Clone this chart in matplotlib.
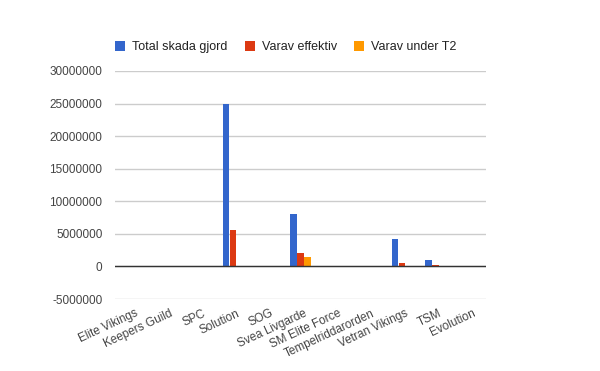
import numpy as np
import matplotlib
matplotlib.use('Agg')
import matplotlib.pyplot as plt

plt.rcParams['font.family'] = ['Liberation Sans', 'DejaVu Sans']

teams = ['Elite Vikings', 'Keepers Guild', 'SPC', 'Solution', 'SOG', 'Svea Livgarde',
         'SM Elite Force', 'Tempelriddarorden', 'Vetran Vikings', 'TSM', 'Evolution']
total = [0, 0, 0, 25000000, 0, 8100000, 0, 0, 4200000, 950000, 0]
effektiv = [0, 0, 0, 5600000, 0, 2000000, 0, 0, 500000, 200000, 0]
under_t2 = [0, 0, 0, 0, 0, 1400000, 0, 0, 0, 0, 0]
series = ['Total skada gjord', 'Varav effektiv', 'Varav under T2']
colors = ['#3366cc', '#dc3912', '#ff9900']
yticks = [-5000000, 0, 5000000, 10000000, 15000000, 20000000, 25000000, 30000000]

fig = plt.figure(figsize=(6, 3.71), dpi=100)
ax = fig.add_axes([115/600, 1 - 299/371, 371/600, 228/371])

x = np.arange(len(teams))
w = 0.185
for i, (vals, c) in enumerate(zip([total, effektiv, under_t2], colors)):
    ax.bar(x + (i - 1) * 0.207, vals, w, color=c, label=series[i], zorder=3)

ax.set_xlim(-0.5, len(teams) - 0.5)
ax.set_ylim(-5000000, 30000000)
ax.set_yticks(yticks)
ax.set_yticklabels([str(v) for v in yticks])
ax.grid(axis='y', color='#cccccc', linewidth=1, zorder=0)
ax.axhline(0, color='#333333', linewidth=1, zorder=4)
for s in ax.spines.values():
    s.set_visible(False)
ax.tick_params(axis='both', length=0, labelsize=8.5, colors='#444444')
ax.tick_params(axis='y', pad=9)
ax.set_xticks(x + 0.1)
ax.set_xticklabels(teams, rotation=25, ha='right', rotation_mode='anchor')
ax.tick_params(axis='x', pad=6)

ax.legend(loc='lower left', bbox_to_anchor=(-0.03, 1.028), ncol=3, frameon=False,
          fontsize=9, handlelength=0.8, handleheight=0.8, handletextpad=0.55,
          columnspacing=1.4, labelcolor='#222222')

fig.savefig('out.png', dpi=100)
